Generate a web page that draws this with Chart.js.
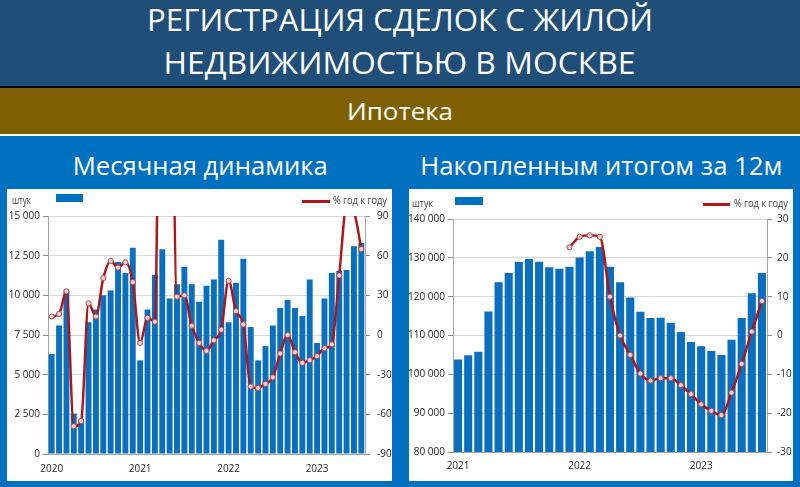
<!DOCTYPE html>
<html lang="ru">
<head>
<meta charset="UTF-8">
<title>Ипотека</title>
<script src="https://cdn.jsdelivr.net/npm/chart.js@4/dist/chart.umd.min.js"></script>
<style>
    body { margin: 0; width: 800px; height: 487px; overflow: hidden; background: #0070c0; position: relative; font-family: "Open Sans", sans-serif; }
    .band { position: absolute; left: 0; width: 800px; }
    .t { position: absolute; text-align: center; color: #fff; white-space: nowrap; }
    .t span { display: inline-block; transform-origin: center; }
    .panel { position: absolute; top: 189px; height: 292px; background: #fff; }
    .panel canvas { position: absolute; left: 0; top: 0; }
    .lbl { position: absolute; display: inline-block; transform-origin: left center; font-size: 11px; line-height: 11px; color: #404040; white-space: nowrap; }
    .box { position: absolute; background: #0070c0; }
    .ln { position: absolute; height: 2.5px; background: #b0151b; }
</style>
</head>
<body>
<div class="band" style="top:0;height:86px;background:#1f4e79"></div>
<div class="band" style="top:86px;height:2px;background:#000"></div>
<div class="band" style="top:88px;height:46px;background:#7f6000"></div>
<div class="band" style="top:134px;height:2px;background:#fff"></div>

<div class="t" style="left:0;width:800px;top:4px;font-size:31px;line-height:31px" data-w="506"><span>РЕГИСТРАЦИЯ СДЕЛОК С ЖИЛОЙ</span></div>
<div class="t" style="left:0;width:800px;top:47px;font-size:31px;line-height:31px" data-w="472"><span>НЕДВИЖИМОСТЬЮ В МОСКВЕ</span></div>
<div class="t" style="left:0;width:800px;top:99px;font-size:24px;line-height:24px" data-w="106"><span>Ипотека</span></div>
<div class="t" style="left:0;width:400px;top:152px;font-size:26px;line-height:26px" data-w="255"><span>Месячная динамика</span></div>
<div class="t" style="left:401px;width:400px;top:152px;font-size:26px;line-height:26px" data-w="362"><span>Накопленным итогом за 12м</span></div>

<div class="panel" style="left:7px;width:385px">
    <canvas id="monthly" width="385" height="292"></canvas>
    <div class="lbl" style="left:5px;top:5px" data-w="19">штук</div>
    <div class="box" style="left:49px;top:5px;width:27px;height:8px"></div>
    <div class="ln" style="left:295px;top:11px;width:28px"></div>
    <div class="lbl" style="left:326px;top:5px" data-w="54">% год к году</div>
</div>
<div class="panel" style="left:409px;width:384px">
    <canvas id="rolling" width="384" height="292"></canvas>
    <div class="lbl" style="left:3px;top:8px" data-w="21">штук</div>
    <div class="box" style="left:46px;top:8px;width:28px;height:8px"></div>
    <div class="ln" style="left:294px;top:14px;width:27px"></div>
    <div class="lbl" style="left:325px;top:8px" data-w="54">% год к году</div>
</div>

<script>
    // monthly registrations, Jan 2020 - Jul 2023
    const monthlyDeals = [6300, 8100, 10300, 2550, 2200, 8300, 9100, 10000, 10300, 12100, 11400, 13000,
        5900, 9100, 11300, 12900, 9800, 10700, 11800, 10700, 9600, 10600, 11000, 13500,
        8300, 10800, 12300, 8000, 5900, 6800, 8100, 9200, 9700, 9200, 8700, 11000,
        7000, 9800, 11400, 11550, 11600, 13100, 13300];
    const monthlyYoy = [14, 16, 33, -69, -65, 24, 14, 43, 56, 51, 55, 40,
        -6, 13, 10, 400, 340, 29, 30, 7, -6, -12, -4, 4,
        41, 18, 8, -39, -40, -37, -32, -14, 0, -13, -21, -19,
        -16, -10, -7, 45, 97, 93, 65];
    // 12-month rolling total, Jan 2021 - Jul 2023
    const rollingDeals = [103800, 104900, 105800, 116200, 123700, 126100, 128900, 129700, 129000, 127600, 127200, 127700,
        130100, 131700, 132800, 127700, 123700, 119800, 116100, 114500, 114600, 113300, 110900, 108300,
        107200, 106000, 105000, 108900, 114500, 120900, 126100];
    const rollingYoy = [null, null, null, null, null, null, null, null, null, null, null, 22.7,
        25.4, 25.8, 25.4, 10, 0, -5, -9.8, -11.6, -11, -11, -12.8, -15.1,
        -17.7, -19.4, -20.5, -14.7, -7.3, 1, 8.9];
    const monthlyYears = ['2020', '2021', '2022', '2023'];
    const rollingYears = ['2021', '2022', '2023'];

    function monthLabels(years, count) {
        const out = [];
        for (let i = 0; i < count; i++) {
            out.push(years[0] * 1 + Math.floor(i / 12) + '-' + (i % 12 + 1));
        }
        return out;
    }

    // fit header texts and legend labels to the widths measured on the picture
    document.querySelectorAll('.t').forEach(function (el) {
        const span = el.querySelector('span');
        const w = span.getBoundingClientRect().width;
        span.style.transform = 'scaleX(' + (el.dataset.w / w) + ')';
    });
    document.querySelectorAll('.lbl').forEach(function (el) {
        const w = el.getBoundingClientRect().width;
        el.style.transform = 'scaleX(' + (el.dataset.w / w) + ')';
    });

    const fmt = v => String(v).replace(/\B(?=(\d{3})+(?!\d))/g, ' ');
    const tickFont = {family: 'Open Sans', size: 10};

    function makeChart(id, labels, bars, yoy, opts) {
        return new Chart(document.getElementById(id), {
            data: {
                labels: labels,
                datasets: [{
                    type: 'line',
                    data: yoy,
                    yAxisID: 'y1',
                    order: 0,
                    borderColor: '#b0151b',
                    borderWidth: 2.5,
                    pointRadius: 2.6,
                    pointBorderWidth: 1,
                    pointBorderColor: '#b8474b',
                    pointBackgroundColor: '#f2d2d3',
                    cubicInterpolationMode: 'monotone',
                    spanGaps: false
                }, {
                    type: 'bar',
                    data: bars,
                    yAxisID: 'y',
                    order: 1,
                    backgroundColor: '#0a6fbe',
                    categoryPercentage: 1,
                    barPercentage: 0.8
                }]
            },
            options: {
                responsive: false,
                animation: false,
                layout: {padding: {top: opts.top, left: 0, right: 0, bottom: 0}},
                plugins: {legend: {display: false}, tooltip: {enabled: false}},
                scales: {
                    x: {
                        afterFit: s => { s.height = opts.xh; },
                        grid: {display: false, drawTicks: false},
                        border: {display: true, color: '#a6a6a6'},
                        ticks: {
                            autoSkip: false, maxRotation: 0, padding: opts.xpad,
                            color: '#262626', font: tickFont,
                            callback: (v, i) => i % 12 === 0 ? opts.years[i / 12] : ''
                        }
                    },
                    y: {
                        position: 'left',
                        min: opts.min, max: opts.max,
                        afterFit: s => { s.width = opts.lw; },
                        grid: {color: '#d9d9d9', tickColor: '#8c8c8c', tickLength: 5},
                        border: {display: true, color: '#a6a6a6'},
                        ticks: {stepSize: opts.step, padding: 3, color: '#262626', font: tickFont, callback: v => fmt(v)}
                    },
                    y1: {
                        position: 'right',
                        min: opts.min1, max: opts.max1,
                        afterFit: s => { s.width = opts.rw; },
                        grid: {drawOnChartArea: false, tickColor: '#8c8c8c', tickLength: 5},
                        border: {display: true, color: '#a6a6a6'},
                        ticks: {stepSize: opts.step1, padding: opts.rpad, color: '#262626', font: tickFont}
                    }
                }
            }
        });
    }

    makeChart('monthly', monthLabels(monthlyYears, monthlyDeals.length), monthlyDeals, monthlyYoy, {
        years: monthlyYears, top: 27, xh: 27, xpad: 9, lw: 41, rw: 27, rpad: 7,
        min: 0, max: 15000, step: 2500, min1: -90, max1: 90, step1: 30
    });
    makeChart('rolling', monthLabels(rollingYears, rollingDeals.length), rollingDeals, rollingYoy, {
        years: rollingYears, top: 30, xh: 29, xpad: 8, lw: 44, rw: 26, rpad: 5,
        min: 80000, max: 140000, step: 10000, min1: -30, max1: 30, step1: 10
    });
</script>
</body>
</html>
